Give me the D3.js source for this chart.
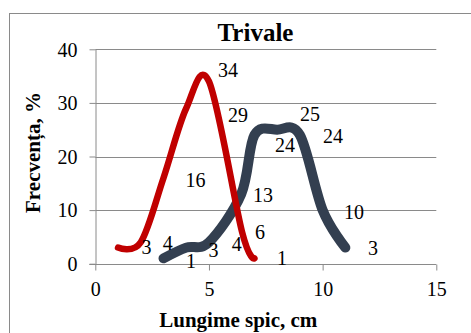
<!DOCTYPE html>
<html>
<head>
<meta charset="utf-8">
<script src="https://cdn.jsdelivr.net/npm/d3@7"></script>
<style>
  html, body { margin: 0; padding: 0; background: #fff; }
  svg { display: block; }
  text { font-family: "Liberation Serif", "Times New Roman", serif; fill: #000; }
</style>
</head>
<body>
<svg id="chart" width="471" height="333"></svg>
<script>
// Spike length distribution (cm) vs frequency (%), two smoothed series
const title = "Trivale";
const xTitle = "Lungime spic, cm";
const yTitle = "Frecvența, %";

const xTicks = [0, 5, 10, 15];
const yTicks = [0, 10, 20, 30, 40];

// red series
const redX = [1, 2, 3, 4, 5, 6.45, 7];
const redY = [3, 4, 16, 29, 34, 6, 1];
// dark series
const darkX = [3, 4, 5, 6.42, 7, 8, 9, 10, 11];
const darkY = [1, 3, 4, 13, 24, 25, 24, 10, 3];

// label nudges in px, relative to each point (left edge, vertical centre)
const redLabelNudge = [[23.5, 0], [22, 0.7], [22, 2], [41.7, 6.7], [9, -11.5], [13, 0.5], [22.5, 0]];
const darkLabelNudge = [[22.5, 2.7], [22.2, 2.4], [22.7, 1.7], [11.7, 1], [20.5, 10.6], [22.8, -15.7], [23, 1.6], [21.3, 1.6], [22.6, 0.7]];

const svg = d3.select("#chart");
const plot = { left: 95.3, right: 436.3, top: 49.3, bottom: 263.7 };

const x = d3.scaleLinear().domain([0, 15]).range([plot.left, plot.right]);
const y = d3.scaleLinear().domain([0, 40]).range([plot.bottom, plot.top]);

const grey = "#8a8a8a";

// outer chart border
svg.append("rect")
  .attr("x", 9.5).attr("y", 13.5)
  .attr("width", 520).attr("height", 400)
  .attr("fill", "none").attr("stroke", grey).attr("stroke-width", 1);

// horizontal gridlines
svg.append("g")
  .selectAll("line")
  .data(yTicks.filter(d => d > 0))
  .join("line")
  .attr("x1", plot.left).attr("x2", plot.right)
  .attr("y1", d => Math.round(y(d)) + 0.5).attr("y2", d => Math.round(y(d)) + 0.5)
  .attr("stroke", grey).attr("stroke-width", 1);

// y axis
const yAxis = svg.append("g")
  .attr("transform", `translate(${Math.round(plot.left) + 0.5},0)`)
  .call(d3.axisLeft(y).tickValues(yTicks).tickSize(6).tickPadding(12).tickSizeOuter(0));
yAxis.select(".domain").attr("stroke", grey);
yAxis.selectAll(".tick line").attr("stroke", grey);
yAxis.selectAll(".tick text")
  .attr("font-family", "Liberation Serif").attr("font-size", 20).attr("fill", "#000")
  .attr("dy", "0.34em");

// x axis
const xAxis = svg.append("g")
  .attr("transform", `translate(0,${Math.round(plot.bottom) + 0.5})`)
  .call(d3.axisBottom(x).tickValues(xTicks).tickSize(6).tickPadding(11).tickSizeOuter(0));
xAxis.select(".domain").attr("stroke", grey).attr("d", `M${plot.left - 6},0H${plot.right}`);
xAxis.selectAll(".tick line").attr("stroke", grey);
xAxis.selectAll(".tick text")
  .attr("font-family", "Liberation Serif").attr("font-size", 20).attr("fill", "#000")
  .attr("dy", "0.71em");

// smoothed lines (uniform Catmull-Rom)
const line = d3.line()
  .x(d => x(d[0]))
  .y(d => y(d[1]))
  .curve(d3.curveCardinal.tension(0));

const darkPts = darkX.map((v, i) => [v, darkY[i]]);
const redPts = redX.map((v, i) => [v, redY[i]]);

svg.append("path")
  .attr("d", line(darkPts))
  .attr("fill", "none").attr("stroke", "#333F50")
  .attr("stroke-width", 10).attr("stroke-linecap", "round").attr("stroke-linejoin", "round");

svg.append("path")
  .attr("d", line(redPts))
  .attr("fill", "none").attr("stroke", "#C00000")
  .attr("stroke-width", 6.5).attr("stroke-linecap", "round").attr("stroke-linejoin", "round");

// value labels
function drawLabels(pts, nudges) {
  svg.append("g")
    .selectAll("text")
    .data(pts)
    .join("text")
    .attr("x", (d, i) => x(d[0]) + nudges[i][0])
    .attr("y", (d, i) => y(d[1]) + nudges[i][1])
    .attr("dy", "0.34em")
    .attr("font-size", 20)
    .text(d => d[1]);
}
drawLabels(darkPts, darkLabelNudge);
drawLabels(redPts, redLabelNudge);

// titles
svg.append("text")
  .attr("x", 255.5).attr("y", 41)
  .attr("text-anchor", "middle")
  .attr("font-size", 25).attr("font-weight", "bold")
  .text(title);

svg.append("text")
  .attr("x", 238.3).attr("y", 326.5)
  .attr("text-anchor", "middle")
  .attr("font-size", 21).attr("font-weight", "bold")
  .text(xTitle);

svg.append("text")
  .attr("transform", "translate(40,152.5) rotate(-90)")
  .attr("text-anchor", "middle")
  .attr("font-size", 21).attr("font-weight", "bold")
  .text(yTitle);
</script>
</body>
</html>
